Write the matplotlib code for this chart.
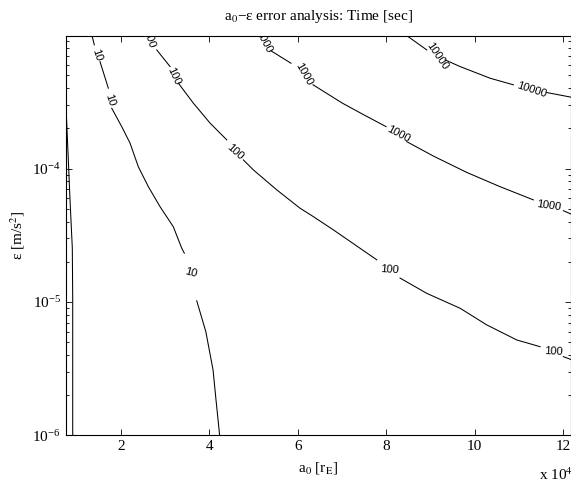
"""
a0 - epsilon error analysis: contour of time [sec]
Contour lines traced from the reference figure and drawn as polylines.
"""

import matplotlib
matplotlib.use('Agg')
import matplotlib.pyplot as plt
from matplotlib.ticker import FixedLocator, FuncFormatter, NullLocator

# ---- data: contour pieces (a0 in r_E, epsilon in m/s^2) ----
# level 10, left branch
c10_left_x = [7120, 7500, 8090, 8470, 8990, 9080, 9080]
c10_left_y = [3.75e-4, 3.27e-4, 1.16e-4, 5.82e-5, 2.54e-5, 1.04e-5, 1.0e-6]

# level 10, main branch (pieces between labels)
c10_x = [[13110, 13970],
         [15260, 17140],
         [17910, 20170, 22050, 23930, 26190, 28830, 31840, 33740, 34330],
         [37140, 39200, 40830, 41500, 42320]]
c10_y = [[1.094e-3, 8.45e-4],
         [6.32e-4, 4.00e-4],
         [2.83e-4, 2.06e-4, 1.55e-4, 1.03e-4, 7.31e-5, 5.18e-5, 3.66e-5, 2.53e-5, 2.32e-5],
         [1.02e-5, 5.98e-6, 3.09e-6, 1.84e-6, 1.0e-6]]

# level 100
c100_x = [[28090, 31100],
          [32980, 36370, 40150, 43930],
          [47680, 49940, 55240, 60510, 63520, 68040, 77860],
          [83130, 89180, 96710, 102750, 109540, 114810],
          [120080, 122730]]
c100_y = [[7.74e-4, 5.81e-4],
          [4.36e-4, 3.09e-4, 2.19e-4, 1.64e-4],
          [1.16e-4, 9.77e-5, 6.92e-5, 5.04e-5, 4.36e-5, 3.47e-5, 2.07e-5],
          [1.51e-5, 1.16e-5, 8.97e-6, 6.73e-6, 5.19e-6, 4.62e-6],
          [3.89e-6, 3.61e-6]]

# level 1000
c1000_x = [[53950, 58470],
           [63450, 70080, 74990, 79970],
           [84650, 90670, 98220, 105760, 113290],
           [120080, 122730]]
c1000_y = [[7.62e-4, 6.15e-4],
           [4.24e-4, 3.09e-4, 2.52e-4, 2.06e-4],
           [1.59e-4, 1.24e-4, 9.35e-5, 7.31e-5, 5.82e-5],
           [4.83e-5, 4.42e-5]]

# level 10000
c10000_x = [[83130, 84650, 89180],
            [93310, 96710, 103500, 108770],
            [116330, 122730]]
c10000_y = [[1.132e-3, 9.91e-4, 7.74e-4],
            [6.52e-4, 5.81e-4, 4.75e-4, 4.24e-4],
            [3.71e-4, 3.38e-4]]

# contour labels: text, a0, epsilon
label_text = ['10', '10', '10',
              '100', '100', '100', '100', '100',
              '1000', '1000', '1000', '1000',
              '10000', '10000']
label_x = [14510, 17520, 35780,
           26350, 32000, 45800, 80640, 117750,
           52140, 61410, 82680, 116680,
           91500, 113000]
label_y = [7.11e-4, 3.27e-4, 1.66e-5,
           9.29e-4, 4.94e-4, 1.34e-4, 1.74e-5, 4.24e-6,
           8.89e-4, 5.12e-4, 1.82e-4, 5.25e-5,
           6.98e-4, 3.88e-4]
label_rot = [-72, -72, -15,
             -72, -65, -42, -4, -3,
             -62, -60, -28, -8,
             -56, -18]

x_ticks = [20000, 40000, 60000, 80000, 100000, 120000]

# ---- style ----
plt.rcParams['font.family'] = ['Liberation Serif', 'DejaVu Serif']
plt.rcParams['mathtext.fontset'] = 'stix'
plt.rcParams['font.size'] = 11

fig = plt.figure(figsize=(5.71, 4.82), dpi=100)
ax = fig.add_axes([0.1151, 0.0967, 0.8841, 0.8293])

line_kw = dict(color='black', linewidth=0.75)
ax.plot(c10_left_x, c10_left_y, **line_kw)
for xs, ys in zip(c10_x, c10_y):
    ax.plot(xs, ys, **line_kw)
for xs, ys in zip(c100_x, c100_y):
    ax.plot(xs, ys, **line_kw)
for xs, ys in zip(c1000_x, c1000_y):
    ax.plot(xs, ys, **line_kw)
for xs, ys in zip(c10000_x, c10000_y):
    ax.plot(xs, ys, **line_kw)

for txt, lx, ly, rot in zip(label_text, label_x, label_y, label_rot):
    ax.text(lx, ly, txt, rotation=rot, rotation_mode='anchor',
            ha='center', va='center', fontsize=8,
            family=['Liberation Sans', 'DejaVu Sans'], clip_on=True)

ax.set_yscale('log')
ax.set_xlim(7500, 121700)
ax.set_ylim(1e-6, 9.9e-4)

ax.xaxis.set_major_locator(FixedLocator(x_ticks))
ax.xaxis.set_minor_locator(NullLocator())
ax.xaxis.set_major_formatter(FuncFormatter(lambda v, p: f'{v / 1e4:g}'))

ax.tick_params(which='both', direction='in', top=True, right=True,
               width=0.6, labelsize=11)
ax.tick_params(which='major', length=4)
ax.tick_params(which='minor', length=2)
for sp in ax.spines.values():
    sp.set_linewidth(0.8)

ax.set_title('a$_0$\u2212\u03b5 error analysis: Time [sec]', fontsize=11, pad=11)
ax.set_xlabel('a$_0$ [r$_\\mathrm{E}$]', fontsize=11, labelpad=5)
ax.set_ylabel('\u03b5 [m/s$^2$]', fontsize=11, labelpad=4)

# MATLAB-style exponent note at the lower right (cut by the edge as in the source)
fig.text(0.944, 0.004, 'x 10$^4$', fontsize=11, ha='left', va='baseline')

fig.savefig('out.png', dpi=100)
